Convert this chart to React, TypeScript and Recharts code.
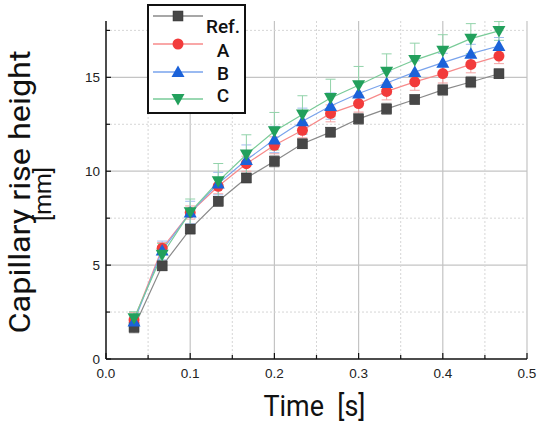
import {
  CartesianGrid,
  ErrorBar,
  Label,
  Legend,
  Line,
  LineChart,
  XAxis,
  YAxis,
} from "recharts";

// time axis (s), one frame every 1/30 s
const TIME = [
  0.0333, 0.0667, 0.1, 0.1333, 0.1667, 0.2, 0.2333, 0.2667, 0.3, 0.3333,
  0.3667, 0.4, 0.4333, 0.4667,
];

// capillary rise height (mm)
const REF = [1.69, 4.96, 6.92, 8.4, 9.64, 10.53, 11.46, 12.08, 12.79, 13.32, 13.82, 14.33, 14.75, 15.19];
const A = [2.08, 5.9, 7.8, 9.2, 10.4, 11.38, 12.18, 13.08, 13.6, 14.25, 14.76, 15.2, 15.69, 16.13];
const B = [2.0, 5.78, 7.8, 9.34, 10.6, 11.69, 12.66, 13.47, 14.14, 14.7, 15.28, 15.78, 16.26, 16.67];
const C = [2.17, 5.55, 7.82, 9.46, 10.89, 12.13, 13.02, 13.9, 14.58, 15.3, 15.92, 16.42, 17.06, 17.47];

// standard deviations
const REF_ERR = [0.3, 0.25, 0.25, 0.25, 0.25, 0.3, 0.25, 0.25, 0.3, 0.3, 0.25, 0.3, 0.3, 0.25];
const A_ERR = [0.4, 0.3, 0.35, 0.4, 0.4, 0.45, 0.4, 0.45, 0.45, 0.45, 0.45, 0.5, 0.45, 0.4];
const B_ERR = [0.3, 0.5, 0.6, 0.6, 0.8, 0.7, 0.7, 0.7, 0.6, 0.6, 0.6, 0.5, 0.5, 0.45];
const C_ERR = [0.35, 0.6, 0.7, 0.95, 1.05, 1.0, 1.0, 1.0, 1.0, 0.95, 0.9, 0.85, 0.8, 0.5];

const X_TICKS = [0, 0.05, 0.1, 0.15, 0.2, 0.25, 0.3, 0.35, 0.4, 0.45, 0.5];
const Y_TICKS = [0, 2.5, 5, 7.5, 10, 12.5, 15, 17.5];

const SERIES = [
  { key: "ref", name: "Ref.", shape: "square", fill: "#474747", line: "#8a8a8a", err: "#a8a8a8" },
  { key: "a", name: "A", shape: "circle", fill: "#f23b3b", line: "#f78a8a", err: "#f2a4a4" },
  { key: "b", name: "B", shape: "up", fill: "#1b62d9", line: "#79a3ec", err: "#a0bcee" },
  { key: "c", name: "C", shape: "down", fill: "#22a05c", line: "#79cb98", err: "#92d3aa" },
];

const data = TIME.map((t, i) => ({
  t,
  ref: REF[i],
  refErr: REF_ERR[i],
  a: A[i],
  aErr: A_ERR[i],
  b: B[i],
  bErr: B_ERR[i],
  c: C[i],
  cErr: C_ERR[i],
}));

const TICK_FONT = "'Liberation Sans', Arial, sans-serif";
const TITLE_FONT = "Roboto, 'Liberation Sans', sans-serif";

function Marker({ shape, x, y, fill }: { shape: string; x: number; y: number; fill: string }) {
  if (shape === "square") {
    return <rect x={x - 5} y={y - 5} width={10} height={10} fill={fill} stroke="#333" strokeWidth={0.5} />;
  }
  if (shape === "circle") {
    return <circle cx={x} cy={y} r={5.5} fill={fill} />;
  }
  if (shape === "up") {
    return <polygon points={`${x},${y - 6.5} ${x - 6.5},${y + 5} ${x + 6.5},${y + 5}`} fill={fill} />;
  }
  return <polygon points={`${x},${y + 6.5} ${x - 6.5},${y - 5} ${x + 6.5},${y - 5}`} fill={fill} />;
}

function XTick({ x, y, payload }: any) {
  const v = payload.value;
  const major = Math.abs(v * 10 - Math.round(v * 10)) < 1e-6;
  return (
    <g>
      <line x1={x} y1={y} x2={x} y2={y - (major ? 6 : 4)} stroke="#111" strokeWidth={1.2} />
      {major && (
        <text x={x} y={y + 19} textAnchor="middle" fontFamily={TICK_FONT} fontSize={13.5} fill="#222">
          {v.toFixed(1)}
        </text>
      )}
    </g>
  );
}

function YTick({ x, y, payload }: any) {
  const v = payload.value;
  const major = v % 5 === 0;
  return (
    <g>
      <line x1={x} y1={y} x2={x + (major ? 5 : 4)} y2={y} stroke="#111" strokeWidth={1.2} />
      {major && (
        <text x={x - 6} y={y + 5} textAnchor="end" fontFamily={TICK_FONT} fontSize={13.5} fill="#222">
          {v}
        </text>
      )}
    </g>
  );
}

function LegendBox() {
  const rows = [16, 44, 72, 99];
  const labelY = [33, 57, 80, 102];
  return (
    <div
      style={{
        width: 99,
        height: 110,
        border: "2px solid #111",
        background: "#fff",
        boxSizing: "border-box",
      }}
    >
      <svg width={95} height={106} style={{ display: "block" }}>
        {SERIES.map((s, i) => (
          <g key={s.key}>
            <line x1={4} x2={54} y1={rows[i] - 6} y2={rows[i] - 6} stroke={s.line} strokeWidth={1.5} />
            <Marker shape={s.shape} x={29} y={rows[i] - 6} fill={s.fill} />
            <text
              x={74}
              y={labelY[i] - 6}
              textAnchor="middle"
              fontFamily={TITLE_FONT}
              fontWeight={500}
              fontSize={19}
              fill="#111"
            >
              {s.name}
            </text>
          </g>
        ))}
      </svg>
    </div>
  );
}

export default function App() {
  return (
    <div style={{ position: "absolute", left: 0, top: 0, width: 537, height: 425, background: "#fff" }}>
      <LineChart width={537} height={425} data={data} margin={{ top: 21, right: 10, bottom: 0, left: 0 }}>
        <CartesianGrid
          horizontalValues={[5, 10, 15]}
          verticalValues={[0.1, 0.2, 0.3, 0.4, 0.5]}
          stroke="#c4c4c4"
          strokeWidth={1.2}
        />
        <CartesianGrid
          horizontalValues={[2.5, 7.5, 12.5, 17.5]}
          verticalValues={[0.05, 0.15, 0.25, 0.35, 0.45]}
          stroke="#d6d6d6"
          strokeDasharray="2 2"
        />
        <XAxis
          dataKey="t"
          type="number"
          domain={[0, 0.5]}
          ticks={X_TICKS}
          interval={0}
          height={66}
          tickSize={0}
          tickMargin={0}
          tickLine={false}
          tick={<XTick />}
          axisLine={{ stroke: "#111", strokeWidth: 1.5 }}
        >
          <Label
            content={({ viewBox }: any) => (
              <text
                x={viewBox.x + viewBox.width / 2 - 2}
                y={viewBox.y + 57}
                textAnchor="middle"
                fontFamily={TITLE_FONT}
                fontSize={30}
                fill="#111"
                textLength={102}
                lengthAdjust="spacingAndGlyphs"
                style={{ whiteSpace: "pre" }}
              >
                Time  [s]
              </text>
            )}
          />
        </XAxis>
        <YAxis
          type="number"
          domain={[0, 18]}
          ticks={Y_TICKS}
          interval={0}
          width={106}
          tickSize={0}
          tickMargin={0}
          tickLine={false}
          tick={<YTick />}
          axisLine={{ stroke: "#111", strokeWidth: 1.5 }}
        >
          <Label
            content={({ viewBox }: any) => {
              const cy = viewBox.y + viewBox.height / 2;
              return (
                <g fontFamily={TITLE_FONT} fill="#111" textAnchor="middle" style={{ whiteSpace: "pre" }}>
                  <text
                    transform={`translate(30, ${cy + 2}) rotate(-90)`}
                    fontSize={30}
                    textLength={283}
                    lengthAdjust="spacingAndGlyphs"
                  >
                    Capillary  rise  height
                  </text>
                  <text
                    transform={`translate(51, ${cy + 4}) rotate(-90)`}
                    fontSize={24}
                    textLength={54}
                    lengthAdjust="spacingAndGlyphs"
                  >
                    [mm]
                  </text>
                </g>
              );
            }}
          />
        </YAxis>
        <Legend
          layout="horizontal"
          align="center"
          verticalAlign="middle"
          content={() => <LegendBox />}
          wrapperStyle={{ position: "absolute", left: 147, top: 4, width: 99, height: 110 }}
        />
        {SERIES.map((s) => (
          <Line
            key={s.key}
            dataKey={s.key}
            name={s.name}
            stroke={s.line}
            strokeWidth={1.2}
            isAnimationActive={false}
            dot={(p: any) => <Marker key={`${s.key}-${p.index}`} shape={s.shape} x={p.cx} y={p.cy} fill={s.fill} />}
            activeDot={false}
          >
            <ErrorBar dataKey={`${s.key}Err`} direction="y" width={5} stroke={s.err} strokeWidth={1} />
          </Line>
        ))}
      </LineChart>
    </div>
  );
}
